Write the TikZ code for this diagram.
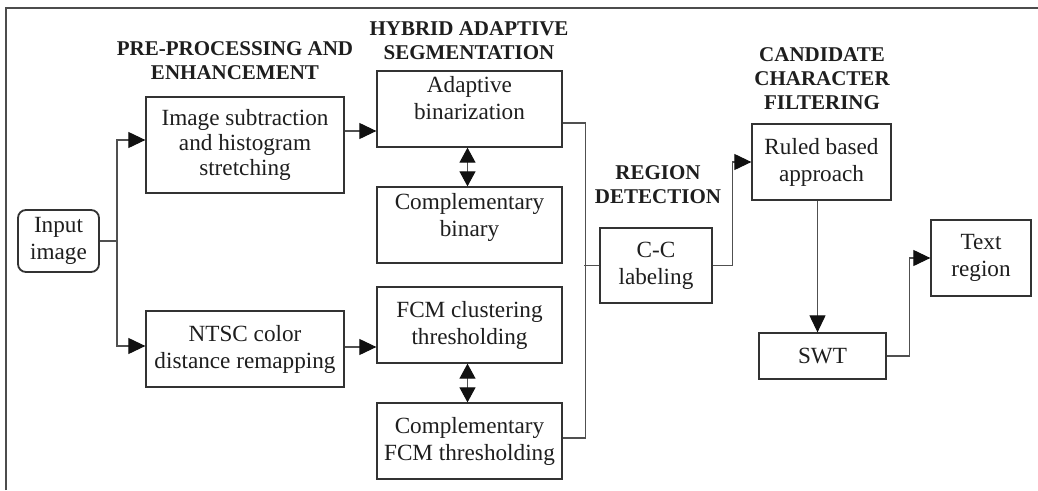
\documentclass[tikz,border=0pt]{standalone}
\usepackage{fontspec}
\setmainfont{Liberation Serif}
\usetikzlibrary{arrows.meta}
\definecolor{ink}{HTML}{1E1E1E}
\definecolor{edge}{HTML}{333333}
\definecolor{wire}{HTML}{505050}
\definecolor{tip}{HTML}{111111}
\begin{document}
\begin{tikzpicture}[x=1pt,y=-1pt,
  box/.style={draw=edge, line width=1.3pt, inner sep=0pt, align=center, text=ink,
    font=\fontsize{23.2}{27}\selectfont},
  head/.style={align=center, text=ink, inner sep=0pt, font=\bfseries\fontsize{21}{24}\selectfont},
  wireline/.style={draw=wire, line width=1.1pt},
  arr/.style={wireline, -{Triangle[length=17pt,width=16pt,color=tip]}},
  darr/.style={wireline, {Triangle[length=15pt,width=16pt,color=tip]}-{Triangle[length=15pt,width=16pt,color=tip]}},
  frameline/.style={draw=gray!60!black, line width=1.5pt}]
\useasboundingbox (0,0) rectangle (1038,490);
\fill[white] (0,0) rectangle (1038,490);
\draw[frameline] (6,490) -- (6,8) -- (1038,8);

% headings
\node[head] (h1) at (235,61) {PRE-PROCESSING AND\\ENHANCEMENT};
\node[head] (h2) at (469,41) {HYBRID ADAPTIVE\\SEGMENTATION};
\node[head] (h3) at (658,185) {REGION\\DETECTION};
\node[head] (h4) at (822,79) {CANDIDATE\\CHARACTER\\FILTERING};

% boxes
\node[box, rounded corners=8pt, line width=1.8pt, minimum width=81pt, minimum height=62pt] (in) at (58.5,241) {Input\\image};
\node[box, minimum width=198pt, minimum height=96pt, font=\fontsize{23.2}{25}\selectfont] (box1) at (245,145) {Image subtraction\\and histogram\\stretching};
\node[box, minimum width=198pt, minimum height=76pt] (ntsc) at (245,349) {NTSC color\\distance remapping};
\node[box, minimum width=185pt, minimum height=76pt] (adapt) at (469.5,109) {Adaptive\\binarization\vphantom{g}\\[-4pt]};
\node[box, minimum width=185pt, minimum height=76pt] (cbin) at (469.5,225) {Complementary\\binary\\[-6pt]};
\node[box, minimum width=185pt, minimum height=76pt] (fcm) at (469.5,325) {FCM clustering\\thresholding};
\node[box, minimum width=185pt, minimum height=76pt] (cfcm) at (469.5,441) {Complementary\\FCM thresholding};
\node[box, minimum width=112pt, minimum height=75pt] (cc) at (656,265.5) {C-C\\labeling};
\node[box, minimum width=139pt, minimum height=76pt] (ruled) at (821.5,162) {Ruled based\\approach};
\node[box, minimum width=127pt, minimum height=46pt] (swt) at (822.5,356) {SWT};
\node[box, minimum width=100pt, minimum height=76pt] (txt) at (981,258) {Text\\region};

% connectors
\coordinate (split) at (117,241);
\draw[wireline] (in.east) -- (split);
\draw[arr] (split) |- ([yshift=5pt]box1.west);
\draw[arr] (split) |- ([yshift=3pt]ntsc.west);
\draw[arr] ([yshift=14pt]box1.east) -- ([yshift=-22pt]adapt.west);
\draw[arr] ([yshift=2pt]ntsc.east) -- ([yshift=-22pt]fcm.west);
\draw[darr] ([xshift=-2pt]adapt.south) -- ([xshift=-2pt]cbin.north);
\draw[darr] ([xshift=-2pt]fcm.south) -- ([xshift=-2pt]cfcm.north);
\draw[wireline] ([yshift=-14pt]adapt.east) -| ([xshift=23pt,yshift=3pt]cfcm.east) -- ([yshift=3pt]cfcm.east);
\draw[wireline] (cc.west) -- ++(-15,0);
\draw[arr] (cc.east) -- ++(20,0) |- (ruled.west);
\draw[arr] ([xshift=-4pt]ruled.south) -- ([xshift=-4pt]ruled.south |- swt.north);
\draw[arr] (swt.east) -- ++(23,0) |- (txt.west);
\end{tikzpicture}
\end{document}
